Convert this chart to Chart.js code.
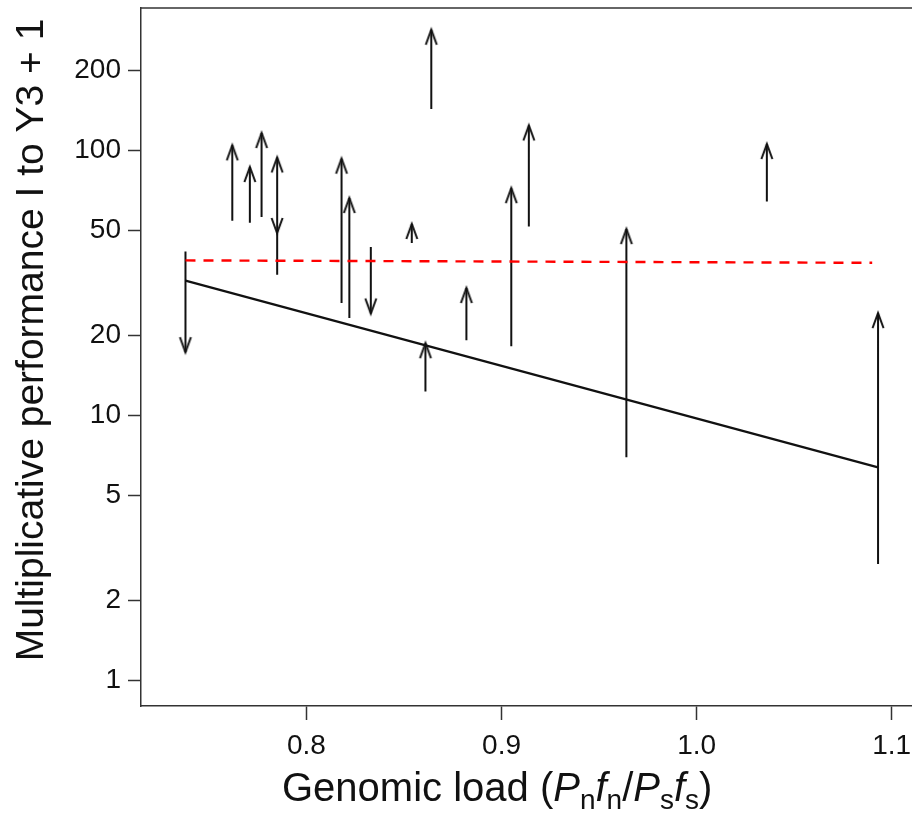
<!DOCTYPE html>
<html lang="en">
<head>
  <meta charset="UTF-8">
  <title>Genomic load vs performance</title>
  <script src="https://cdn.jsdelivr.net/npm/chart.js"></script>
  <style>
    html, body {margin: 0; padding: 0; background: #fff; overflow: hidden;}
    #wrap {width: 912px; height: 816px;}
  </style>
</head>
<body>
<div id="wrap"><canvas id="myChart" width="912" height="816"></canvas></div>
<script>
  // genomic load of each line, and performance before -> after (arrow tail -> head)
  const loadX    = [0.738, 0.762, 0.771, 0.777, 0.785, 0.785, 0.818, 0.822, 0.833, 0.854, 0.861, 0.864, 0.882, 0.905, 0.914, 0.964, 1.036, 1.093];
  const perfFrom = [41.5, 54.2, 53.2, 56.0, 33.9, 68.9, 26.5, 23.3, 43.1, 44.7, 12.3, 143.0, 19.2, 18.2, 51.6, 6.94, 64.1, 2.75];
  const perfTo   = [17.3, 104.3, 86.4, 116.1, 93.9, 48.7, 92.9, 66.0, 24.2, 52.7, 18.7, 284.8, 30.2, 71.9, 124.0, 50.4, 105.5, 24.3];

  // fitted line and the red dashed reference line
  const fitX  = [0.738, 1.093];
  const fitY  = [32.2, 6.36];
  const refX  = [0.738, 1.090];
  const refY  = [38.4, 37.6];

  const yTicks = [1, 2, 5, 10, 20, 50, 100, 200];
  const xTicks = [0.8, 0.9, 1.0, 1.1];
  const xTickLabels = ['0.8', '0.9', '1.0', '1.1'];

  const FONT = '"Liberation Sans", Arial, sans-serif';
  Chart.defaults.font.family = FONT;

  // open "V" arrow head used as point style (tip sits in the middle of the image)
  function makeHead() {
    const c = document.createElement('canvas');
    c.width = 16; c.height = 36;
    const g = c.getContext('2d');
    g.strokeStyle = '#111';
    g.lineWidth = 2;
    g.beginPath();
    g.moveTo(2.5, 33); g.lineTo(8, 18); g.lineTo(13.5, 33);
    g.stroke();
    return c;
  }
  const head = makeHead();

  let arrowPts = [];
  loadX.forEach(function(x, i) {
    arrowPts.push({x: x, y: perfFrom[i], head: false});
    arrowPts.push({x: x, y: perfTo[i], head: true, down: perfTo[i] < perfFrom[i]});
    arrowPts.push({x: x, y: null});
  });

  // titles (with italics / subscripts) and the top of the box
  const axisTitles = {
    id: 'axisTitles',
    afterDraw(chart) {
      const ctx = chart.ctx, a = chart.chartArea;
      ctx.save();
      ctx.strokeStyle = '#333';
      ctx.lineWidth = 1.5;
      ctx.beginPath();
      ctx.moveTo(a.left, a.top);
      ctx.lineTo(a.right, a.top);
      ctx.stroke();

      ctx.fillStyle = '#111';
      ctx.textBaseline = 'alphabetic';
      ctx.save();
      ctx.font = '39px ' + FONT;
      ctx.textAlign = 'center';
      ctx.translate(43, 340);
      ctx.rotate(-Math.PI / 2);
      ctx.fillText('Multiplicative performance I to Y3 + 1', 0, 0);
      ctx.restore();

      const size = 40;
      const parts = [
        ['Genomic load (', 'n'], ['P', 'i'], ['n', 's'], ['f', 'i'], ['n', 's'],
        ['/', 'n'], ['P', 'i'], ['s', 's'], ['f', 'i'], ['s', 's'], [')', 'n']
      ];
      let x = 282;
      const base = 801;
      ctx.textAlign = 'left';
      parts.forEach(function(p) {
        let dy = 0;
        if (p[1] === 'i') ctx.font = 'italic ' + size + 'px ' + FONT;
        else if (p[1] === 's') { ctx.font = Math.round(size * 0.7) + 'px ' + FONT; dy = size * 0.2; }
        else ctx.font = size + 'px ' + FONT;
        ctx.fillText(p[0], x, base + dy);
        x += ctx.measureText(p[0]).width;
      });
      ctx.restore();
    }
  };

  const ctx = document.getElementById('myChart');
  new Chart(ctx, {
    type: 'scatter',
    data: {
      datasets: [
        {
          label: 'fit',
          data: fitX.map(function(x, i) { return {x: x, y: fitY[i]}; }),
          showLine: true, borderColor: '#111', borderWidth: 2.2, pointRadius: 0
        },
        {
          label: 'reference',
          data: refX.map(function(x, i) { return {x: x, y: refY[i]}; }),
          showLine: true, borderColor: '#ff0000', borderWidth: 2.4, borderDash: [10, 8], pointRadius: 0
        },
        {
          label: 'lines',
          data: arrowPts,
          showLine: true, spanGaps: false,
          borderColor: '#111', borderWidth: 2,
          pointStyle: function(c) { return c.raw && c.raw.head ? head : 'circle'; },
          pointRadius: function(c) { return c.raw && c.raw.head ? 3 : 0; },
          pointRotation: function(c) { return c.raw && c.raw.down ? 180 : 0; }
        }
      ]
    },
    options: {
      responsive: false,
      devicePixelRatio: 1,
      animation: false,
      events: [],
      layout: {padding: {top: 8, right: 0, bottom: 0, left: 0}},
      plugins: {legend: {display: false}, tooltip: {enabled: false}},
      scales: {
        x: {
          type: 'linear', min: 0.7152, max: 1.1104,
          afterBuildTicks: function(s) { s.ticks = xTicks.map(function(v) { return {value: v}; }); },
          afterFit: function(s) { s.height = 110; s.paddingLeft = 0; s.paddingRight = 0; },
          ticks: {
            callback: function(v, i) { return xTickLabels[i]; },
            font: {size: 28}, color: '#111', padding: 9, maxRotation: 0, autoSkip: false
          },
          grid: {drawOnChartArea: false, tickLength: 14, tickColor: '#333', tickWidth: 1.5},
          border: {display: true, color: '#333', width: 1.5}
        },
        y: {
          type: 'logarithmic', min: 0.8006, max: 343.9,
          afterBuildTicks: function(s) { s.ticks = yTicks.map(function(v) { return {value: v}; }); },
          afterFit: function(s) { s.width = 141; s.paddingTop = 0; s.paddingBottom = 0; },
          ticks: {
            callback: function(v) { return String(v); },
            font: {size: 28}, color: '#111', padding: 7, autoSkip: false
          },
          grid: {drawOnChartArea: false, tickLength: 13, tickColor: '#333', tickWidth: 1.5},
          border: {display: true, color: '#333', width: 1.5}
        }
      }
    },
    plugins: [axisTitles]
  });
</script>
</body>
</html>
